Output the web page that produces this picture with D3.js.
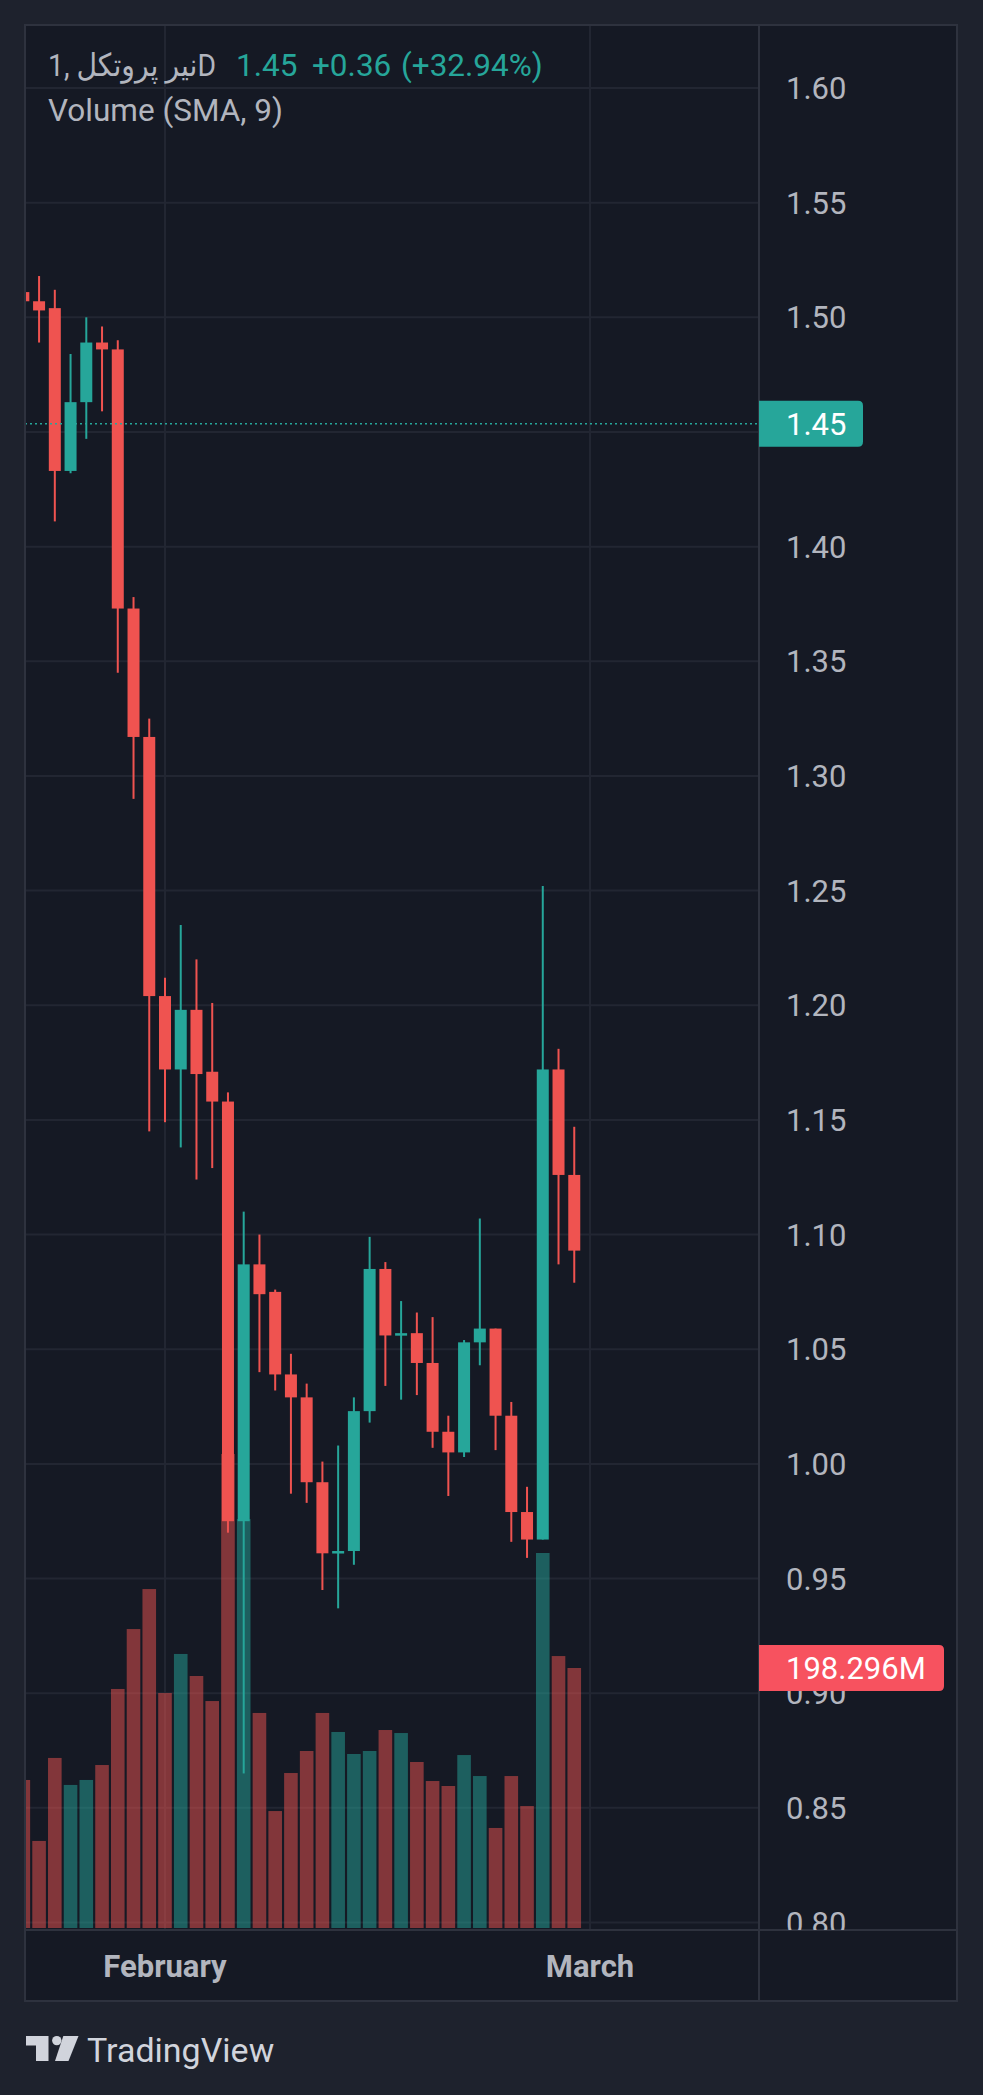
<!DOCTYPE html>
<html>
<head>
<meta charset="utf-8">
<script src="https://cdn.jsdelivr.net/npm/d3@7"></script>
<style>
  body { margin: 0; background: #1e222d; }
  svg { display: block; font-family: Roboto, "Noto Sans", "DejaVu Sans", sans-serif; }
</style>
</head>
<body>
<div id="container"></div>
<script>
// daily candles (first one is cut by the left edge)
const opens = [1.511, 1.507, 1.504, 1.433, 1.463, 1.489, 1.486, 1.373, 1.317, 1.204,
  1.172, 1.198, 1.171, 1.158, 0.975, 1.087, 1.075, 1.039, 1.029, 0.992,
  0.961, 0.962, 1.023, 1.085, 1.056, 1.057, 1.044, 1.014, 1.005, 1.053,
  1.059, 1.021, 0.979, 0.967, 1.172, 1.126];
const highs = [1.514, 1.518, 1.512, 1.484, 1.500, 1.496, 1.490, 1.378, 1.325, 1.212,
  1.235, 1.220, 1.201, 1.162, 1.110, 1.100, 1.076, 1.048, 1.035, 1.001,
  1.008, 1.029, 1.099, 1.088, 1.071, 1.066, 1.064, 1.021, 1.054, 1.107,
  1.059, 1.027, 0.990, 1.252, 1.181, 1.147];
const lows = [1.506, 1.489, 1.411, 1.432, 1.447, 1.459, 1.345, 1.290, 1.145, 1.149,
  1.138, 1.124, 1.129, 0.970, 0.865, 1.040, 1.032, 0.987, 0.983, 0.945,
  0.937, 0.956, 1.018, 1.034, 1.028, 1.030, 1.007, 0.986, 1.003, 1.043,
  1.006, 0.966, 0.959, 0.967, 1.087, 1.079];
const closes = [1.507, 1.503, 1.433, 1.463, 1.489, 1.486, 1.373, 1.317, 1.204, 1.172,
  1.198, 1.170, 1.158, 0.975, 1.087, 1.074, 1.039, 1.029, 0.992, 0.961,
  0.962, 1.023, 1.085, 1.056, 1.057, 1.044, 1.014, 1.005, 1.053, 1.059,
  1.021, 0.979, 0.967, 1.172, 1.126, 1.093];
// volume in millions
const volumes = [112.9, 66.4, 129.7, 109.1, 112.9, 124.3, 182.3, 228.0, 258.5, 179.2,
  209.0, 192.2, 173.1, 361.5, 311.9, 164.0, 89.2, 118.2, 135.0, 164.0,
  149.5, 132.7, 135.0, 151.0, 148.7, 126.6, 112.1, 108.3, 131.9, 115.9,
  76.3, 115.9, 93.0, 286.0, 207.4, 198.296];

const priceTicks = [0.80, 0.85, 0.90, 0.95, 1.00, 1.05, 1.10, 1.15, 1.20,
  1.25, 1.30, 1.35, 1.40, 1.45, 1.50, 1.55, 1.60];
const timeTickIndex = [9, 36];
const timeTickLabels = ["February", "March"];

const lastPrice = 1.4536;
const lastVolumeLabel = "198.296M";
const legendTitle = "1, نیر پروتکلD";
const legendValues = ["1.45", "+0.36", "(+32.94%)"];
const legendStudy = "Volume (SMA, 9)";

const width = 983,
  height = 2095;
const pane = { left: 25, top: 25, right: 759, bottom: 1930, outerRight: 957, outerBottom: 2001 };

const up = "#26a69a",
  down = "#ef5350",
  gridColor = "#222632",
  borderColor = "#2e323e",
  textColor = "#b2b5be";

const svg = d3
  .select("#container")
  .append("svg")
  .attr("width", width)
  .attr("height", height);

svg.append("rect").attr("width", width).attr("height", height).attr("fill", "#1e222d");
svg
  .append("rect")
  .attr("x", pane.left)
  .attr("y", pane.top)
  .attr("width", pane.outerRight - pane.left)
  .attr("height", pane.outerBottom - pane.top)
  .attr("fill", "#151924");

const defs = svg.append("defs");
defs
  .append("clipPath")
  .attr("id", "plot-clip")
  .append("rect")
  .attr("x", pane.left + 1)
  .attr("y", pane.top + 1)
  .attr("width", pane.right - pane.left - 1)
  .attr("height", pane.bottom - pane.top - 1);
defs
  .append("clipPath")
  .attr("id", "axis-clip")
  .append("rect")
  .attr("x", pane.right)
  .attr("y", pane.top + 1)
  .attr("width", pane.outerRight - pane.right)
  .attr("height", pane.bottom - pane.top - 1);

// scales
const x = d3.scaleLinear().domain([9, 36]).range([165, 590]);
const y = d3.scaleLinear().domain([0.8, 1.6]).range([1922.5, 88]);
const yVol = d3
  .scaleLinear()
  .domain([0, d3.max(volumes)])
  .range([1928, 1454]);

const candles = opens.map((o, i) => ({
  i: i,
  open: o,
  high: highs[i],
  low: lows[i],
  close: closes[i],
  volume: volumes[i]
}));

// grid
const grid = svg.append("g").attr("id", "grid");
grid
  .selectAll("line.h")
  .data(priceTicks)
  .enter()
  .append("line")
  .attr("class", "h")
  .attr("x1", pane.left)
  .attr("x2", pane.right)
  .attr("y1", d => y(d))
  .attr("y2", d => y(d))
  .attr("stroke", gridColor)
  .attr("stroke-width", 2);
grid
  .selectAll("line.v")
  .data(timeTickIndex)
  .enter()
  .append("line")
  .attr("class", "v")
  .attr("x1", d => x(d))
  .attr("x2", d => x(d))
  .attr("y1", pane.top)
  .attr("y2", pane.bottom)
  .attr("stroke", gridColor)
  .attr("stroke-width", 2);

const plot = svg.append("g").attr("clip-path", "url(#plot-clip)");

// volume columns
const volW = 13.6;
plot
  .append("g")
  .attr("id", "volume")
  .selectAll("rect")
  .data(candles)
  .enter()
  .append("rect")
  .attr("x", d => x(d.i) - volW / 2)
  .attr("y", d => yVol(d.volume))
  .attr("width", volW)
  .attr("height", d => yVol(0) - yVol(d.volume))
  .attr("fill", d => (d.close >= d.open ? up : down))
  .attr("fill-opacity", 0.5);

// candles
const bodyW = 12;
const candleG = plot.append("g").attr("id", "candles");
candleG
  .selectAll("rect.wick")
  .data(candles)
  .enter()
  .append("rect")
  .attr("class", "wick")
  .attr("x", d => x(d.i) - 1)
  .attr("y", d => y(d.high))
  .attr("width", 2)
  .attr("height", d => y(d.low) - y(d.high))
  .attr("fill", d => (d.close >= d.open ? up : down));
candleG
  .selectAll("rect.body")
  .data(candles)
  .enter()
  .append("rect")
  .attr("class", "body")
  .attr("x", d => x(d.i) - bodyW / 2)
  .attr("y", d => y(Math.max(d.open, d.close)))
  .attr("width", bodyW)
  .attr("height", d => Math.max(2.5, Math.abs(y(d.open) - y(d.close))))
  .attr("fill", d => (d.close >= d.open ? up : down));

// last price dotted line
plot
  .append("line")
  .attr("x1", pane.left)
  .attr("x2", pane.right)
  .attr("y1", y(lastPrice))
  .attr("y2", y(lastPrice))
  .attr("stroke", up)
  .attr("stroke-width", 1.6)
  .attr("stroke-dasharray", "2,3");

// borders
const borders = svg.append("g").attr("id", "borders").attr("stroke", borderColor).attr("stroke-width", 2);
borders
  .append("rect")
  .attr("x", pane.left)
  .attr("y", pane.top)
  .attr("width", pane.outerRight - pane.left)
  .attr("height", pane.outerBottom - pane.top)
  .attr("fill", "none");
borders.append("line").attr("x1", pane.right).attr("x2", pane.right).attr("y1", pane.top).attr("y2", pane.outerBottom);
borders.append("line").attr("x1", pane.left).attr("x2", pane.outerRight).attr("y1", pane.bottom).attr("y2", pane.bottom);

// price axis labels (the one sitting fully under the last-price box is hidden, as on the scale)
svg
  .append("g")
  .attr("id", "price-axis")
  .attr("clip-path", "url(#axis-clip)")
  .selectAll("text")
  .data(priceTicks.filter(d => Math.abs(y(d) - y(lastPrice)) > 14))
  .enter()
  .append("text")
  .attr("x", 786)
  .attr("y", d => y(d))
  .attr("dy", "0.36em")
  .attr("font-size", "31px")
  .attr("fill", textColor)
  .text(d => d.toFixed(2));

// time axis labels
svg
  .append("g")
  .attr("id", "time-axis")
  .selectAll("text")
  .data(timeTickIndex)
  .enter()
  .append("text")
  .attr("x", d => x(d))
  .attr("y", 1966)
  .attr("dy", "0.36em")
  .attr("text-anchor", "middle")
  .attr("font-size", "31px")
  .attr("font-weight", "bold")
  .attr("fill", textColor)
  .text((d, i) => timeTickLabels[i]);

// label boxes on the price scale, rounded on the right side
function roundedRight(x0, y0, w, h, r) {
  return `M${x0},${y0}H${x0 + w - r}Q${x0 + w},${y0} ${x0 + w},${y0 + r}` +
    `V${y0 + h - r}Q${x0 + w},${y0 + h} ${x0 + w - r},${y0 + h}H${x0}Z`;
}

function priceLabel(cy, w, fill, label) {
  const g = svg.append("g");
  g.append("path").attr("d", roundedRight(pane.right, cy - 23, w, 46, 5)).attr("fill", fill);
  g.append("text")
    .attr("x", 786)
    .attr("y", cy)
    .attr("dy", "0.36em")
    .attr("font-size", "31px")
    .attr("fill", "#ffffff")
    .text(label);
}

priceLabel(y(lastPrice), 104, up, legendValues[0]);
priceLabel(yVol(volumes[volumes.length - 1]), 185, "#f7525f", lastVolumeLabel);

// legend
const legend = svg.append("g").attr("id", "legend").attr("font-size", "31.5px");
legend
  .append("text")
  .attr("x", 48)
  .attr("y", 76)
  .attr("fill", textColor)
  .attr("textLength", 168)
  .attr("lengthAdjust", "spacingAndGlyphs")
  .text(legendTitle);
const legendX = [236, 312, 401];
legend
  .selectAll("text.val")
  .data(legendValues)
  .enter()
  .append("text")
  .attr("class", "val")
  .attr("x", (d, i) => legendX[i])
  .attr("y", 76)
  .attr("fill", up)
  .text(d => d);
legend.append("text").attr("x", 48).attr("y", 121).attr("fill", textColor).text(legendStudy);

// TradingView mark
const logo = svg.append("g").attr("id", "logo").attr("fill", "#d1d4dc");
logo.append("path").attr("d", "M26,2036H48.5V2061H36V2045.5H26Z");
logo.append("circle").attr("cx", 56.8).attr("cy", 2040.6).attr("r", 4.7);
logo.append("path").attr("d", "M63.3,2036H78.5L68.5,2061H55Z");
logo
  .append("text")
  .attr("x", 87)
  .attr("y", 2061.5)
  .attr("font-size", "34px")
  .text("TradingView");
</script>
</body>
</html>
